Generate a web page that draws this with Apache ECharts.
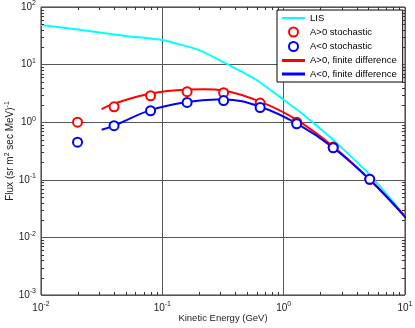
<!DOCTYPE html>
<html><head><meta charset="utf-8">
<script src="https://cdn.jsdelivr.net/npm/echarts@6/dist/echarts.min.js"></script>
<style>html,body{margin:0;padding:0;background:#fff}#c{width:415px;height:328px}</style>
</head><body><div id="c"></div>
<script>
// ---- data ----
const lisEnergy = [0.01, 0.02, 0.05, 0.1, 0.2, 0.4, 0.6, 1.0, 1.36, 2.57, 5.15, 10.24];
const lisFlux   = [48.7, 40.5, 31.5, 26.7, 18.0, 8.6, 5.4, 2.45, 1.52, 0.49, 0.121, 0.022];

const stochEnergy = [0.02, 0.04, 0.08, 0.16, 0.32, 0.64, 1.28, 2.56, 5.12, 10.24];
const stochPos    = [1.0, 1.85, 2.88, 3.39, 3.25, 2.15, 1.0, 0.37, 0.102, 0.022];
const stochNeg    = [0.45, 0.87, 1.58, 2.2, 2.37, 1.8, 0.94, 0.36, 0.102, 0.0217];

const fdPosEnergy = [0.0316, 0.04, 0.08, 0.16, 0.22, 0.32, 0.64, 1.28, 2.56, 5.12, 10.24];
const fdPosFlux   = [1.69, 2.1, 3.15, 3.7, 3.75, 3.55, 2.27, 1.1, 0.38, 0.102, 0.022];
const fdNegEnergy = [0.0316, 0.04, 0.08, 0.16, 0.28, 0.32, 0.64, 1.28, 2.56, 5.12, 10.24];
const fdNegFlux   = [0.74, 0.87, 1.62, 2.24, 2.48, 2.48, 1.86, 0.95, 0.36, 0.1, 0.0215];

const seriesNames = ['LIS', 'A>0 stochastic', 'A<0 stochastic', 'A>0, finite difference', 'A<0, finite difference'];
const xTitle = 'Kinetic Energy (GeV)';
const yTitle = 'Flux (sr m{s|2} sec MeV){s|-1}';

// ---- helpers ----
const zip = (a, b) => a.map((v, i) => [v, b[i]]);
const FONT = 'Liberation Sans, Arial, sans-serif';
const minorX = [], minorY = [];
for (let k = -2; k <= 0; k++) for (let m = 2; m <= 9; m++) minorX.push(m * Math.pow(10, k));
for (let k = -3; k <= 1; k++) for (let m = 2; m <= 9; m++) minorY.push(m * Math.pow(10, k));
const supLabel = v => '10{s|' + Math.round(Math.log10(v)) + '}';
const labelRich = { s: { fontSize: 7, fontFamily: FONT, color: '#222', verticalAlign: 'top', padding: [0, 0, 7, 0] } };
const lineIcon2 = 'path://M0,0H23V2H0Z';
const lineIcon3 = 'path://M0,0H23V3H0Z';

const chart = echarts.init(document.getElementById('c'), null, { renderer: 'canvas' });
chart.setOption({
  animation: false,
  backgroundColor: '#fff',
  grid: { left: 41, right: 10, top: 7, bottom: 33, containLabel: false, outerBoundsMode: 'none',
    show: true, borderColor: '#333', borderWidth: 1, backgroundColor: 'transparent' },
  xAxis: {
    type: 'log', logBase: 10, min: 0.01, max: 10,
    name: xTitle, nameLocation: 'middle', nameGap: 18, nameMoveOverlap: false,
    nameTextStyle: { fontFamily: FONT, fontSize: 9.5, color: '#222' },
    axisLine: { show: false }, axisTick: { show: false },
    axisLabel: { formatter: supLabel, rich: labelRich, fontFamily: FONT, fontSize: 10, color: '#222', margin: 6 },
    splitLine: { show: true, lineStyle: { color: '#555', width: 1 } }
  },
  yAxis: {
    type: 'log', logBase: 10, min: 0.001, max: 100,
    name: yTitle, nameLocation: 'middle', nameGap: 24, nameRotate: 90, nameMoveOverlap: false,
    nameTextStyle: { fontFamily: FONT, fontSize: 10, color: '#222', fontWeight: 'normal',
      rich: { s: { fontSize: 7, fontFamily: FONT, color: '#222', verticalAlign: 'top', padding: [0, 0, 6, 0] } } },
    axisLine: { show: false }, axisTick: { show: false },
    axisLabel: { formatter: supLabel, rich: labelRich, fontFamily: FONT, fontSize: 10, color: '#222', margin: 5 },
    splitLine: { show: true, lineStyle: { color: '#555', width: 1 } }
  },
  legend: {
    orient: 'vertical', left: 277, top: 10,
    itemWidth: 23, itemHeight: 9, itemGap: 3.5,
    padding: [3, 6, 3, 5],
    borderColor: '#000', borderWidth: 1, backgroundColor: '#fff',
    textStyle: { fontFamily: FONT, fontSize: 9.5, color: '#000' },
    data: [
      { name: seriesNames[0], icon: lineIcon2 },
      { name: seriesNames[1] },
      { name: seriesNames[2] },
      { name: seriesNames[3], icon: lineIcon3 },
      { name: seriesNames[4], icon: lineIcon3 }
    ]
  },
  series: [
    { name: seriesNames[0], type: 'line', data: zip(lisEnergy, lisFlux), smooth: 0.15, symbol: 'none',
      lineStyle: { color: '#00ffff', width: 2 }, itemStyle: { color: '#00ffff' }, z: 2 },
    { name: seriesNames[3], type: 'line', data: zip(fdPosEnergy, fdPosFlux), smooth: 0.4, symbol: 'none',
      lineStyle: { color: '#ff0000', width: 2 }, itemStyle: { color: '#ff0000' }, z: 3 },
    { name: seriesNames[4], type: 'line', data: zip(fdNegEnergy, fdNegFlux), smooth: 0.4, symbol: 'none',
      lineStyle: { color: '#0000ff', width: 2 }, itemStyle: { color: '#0000ff' }, z: 4 },
    { name: seriesNames[1], type: 'scatter', data: zip(stochEnergy, stochPos), symbol: 'emptyCircle', symbolSize: 9,
      itemStyle: { color: '#ff0000', borderColor: '#ff0000', borderWidth: 1.6, opacity: 1 }, z: 5 },
    { name: seriesNames[2], type: 'scatter', data: zip(stochEnergy, stochNeg), symbol: 'emptyCircle', symbolSize: 9,
      itemStyle: { color: '#0000ff', borderColor: '#0000ff', borderWidth: 1.6, opacity: 1 }, z: 6 },
    { type: 'custom', name: 'minorX', silent: true, z: 7,
      data: minorX.map(v => [v, 1]),
      renderItem: (params, api) => {
        const cs = params.coordSys;
        const x = Math.round(api.coord([api.value(0), 1])[0]) + 0.5;
        const b = cs.y + cs.height, t = cs.y;
        return { type: 'group', children: [
          { type: 'line', shape: { x1: x, y1: b, x2: x, y2: b - 3 }, style: { stroke: '#333', lineWidth: 1 } },
          { type: 'line', shape: { x1: x, y1: t, x2: x, y2: t + 3 }, style: { stroke: '#333', lineWidth: 1 } }
        ] };
      } },
    { type: 'custom', name: 'minorY', silent: true, z: 7,
      data: minorY.map(v => [0.1, v]),
      renderItem: (params, api) => {
        const cs = params.coordSys;
        const y = Math.round(api.coord([0.1, api.value(1)])[1]) + 0.5;
        const l = cs.x, r = cs.x + cs.width;
        return { type: 'group', children: [
          { type: 'line', shape: { x1: l, y1: y, x2: l + 3, y2: y }, style: { stroke: '#333', lineWidth: 1 } },
          { type: 'line', shape: { x1: r, y1: y, x2: r - 3, y2: y }, style: { stroke: '#333', lineWidth: 1 } }
        ] };
      } }
  ]
});
</script>
</body></html>
